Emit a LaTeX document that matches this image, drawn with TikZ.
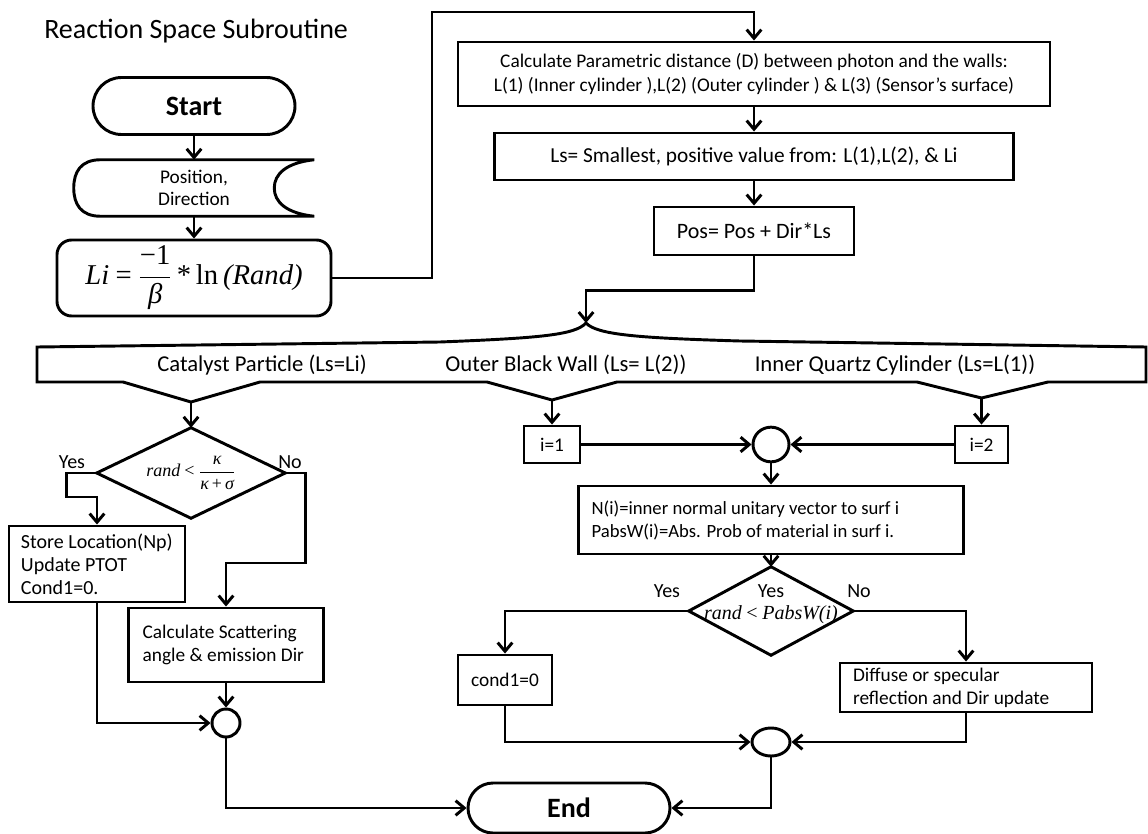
\documentclass[tikz,border=0pt]{standalone}
\usepackage{fix-cm}
\usepackage{amsmath}
\usepackage[no-math]{fontspec}
\setmainfont{Carlito}
\newfontfamily\tnr{Liberation Serif}
\usetikzlibrary{arrows.meta,shapes.misc,shapes.geometric,calc}
\tikzset{
  ln/.style={line width=2.2pt},
  arr/.style={line width=2.2pt,-{Straight Barb[length=6.5pt,width=11pt]}},
  box/.style={draw,line width=2.2pt,rectangle,inner sep=0pt,align=center},
  lbox/.style={draw,line width=2.2pt,rectangle,align=flush left,inner ysep=0pt},
  term/.style={draw,line width=2.2pt,rounded rectangle,inner sep=0pt,font=\fontsize{21}{25}\selectfont\bfseries},
  lab/.style={inner sep=0pt,font=\fontsize{15}{17}\selectfont},
  blab/.style={inner sep=0pt,font=\fontsize{17}{20}\selectfont},
  junc/.style={draw,line width=2.2pt,ellipse,inner sep=0pt},
  dia/.style={rectangle,inner sep=0pt},
}
\begin{document}
\begin{tikzpicture}[x=0.75pt,y=-0.75pt]
\useasboundingbox (0,0) rectangle (1148,834);

% title
\node[anchor=west,inner sep=0pt,font=\fontsize{21}{25}\selectfont] (title) at (44,31) {Reaction Space Subroutine};

% left column
\node[term,minimum width=151.5pt,minimum height=42.75pt] (start) at (194,106) {Start};
\node[dia,minimum width=180pt,minimum height=42pt,align=center,font=\fontsize{14.5}{16.5}\selectfont] (pos) at (194,188) {Position,\\Direction};
\draw[ln] ($(pos.north west)+(27,0)$) -- (pos.north east)
  .. controls ++(-28,3) and ++(0,-14) .. ($(pos.east)+(-40,0)$)
  .. controls ++(0,14) and ++(-28,-3) .. (pos.south east)
  -- ($(pos.south west)+(27,0)$)
  .. controls ++(-20,0) and ++(0,16) .. (pos.west)
  .. controls ++(0,-16) and ++(-20,0) .. ($(pos.north west)+(27,0)$);
\node[box,rounded corners=11pt,minimum width=205.5pt,minimum height=57pt,font=\fontsize{21.5}{24}\selectfont] (li) at (194,278)
  {{\tnr\itshape Li} {\tnr =} $\dfrac{\text{\tnr −1}}{\text{\tnr\itshape β}}$\,{\tnr *\,ln}\,{\tnr\itshape (Rand)}};

\draw[arr] (start.south) -- (pos.north);
\draw[arr] (pos.south) -- (li.north);

% top right column
\node[box,minimum width=444pt,minimum height=48pt,font=\fontsize{14.5}{18}\selectfont] (calc) at (754,74)
  {Calculate Parametric distance (D) between photon and the walls:\\L(1) (Inner cylinder ),L(2) (Outer cylinder ) \& L(3) (Sensor’s surface)};
\node[box,minimum width=389pt,minimum height=35.25pt,font=\fontsize{16}{19}\selectfont] (ls) at (754,156.5)
  {Ls= Smallest, positive value from: L(1),L(2), \& Li};
\node[box,minimum width=150pt,minimum height=36pt,font=\fontsize{16.5}{19}\selectfont] (posb) at (754,231)
  {Pos= Pos + Dir*Ls};

\draw[arr] (li.east) -| (432,12) -| (calc.north);
\draw[arr] (calc.south) -- (ls.north);
\draw[arr] (ls.south) -- (posb.north);

% brace
\coordinate (btip) at (586,323);
\coordinate (b1) at (191,402);
\coordinate (b2) at (552,400);
\coordinate (b3) at (981.5,398);
\draw[ln,line join=miter] (37,347) -- (37,382) -- (123,382) -- (b1) -- (260,382) -- (487,382) -- (b2) -- (617,382)
  -- (917,382) -- (b3) -- (1048,382) -- (1146,382) -- (1146,347) -- (740,341)
  .. controls (640,338) and (597,335) .. (btip)
  .. controls (575,335) and (540,338) .. (440,342) -- cycle;
\node[blab] (lab1) at (262,365) {Catalyst Particle (Ls=Li)};
\node[blab] (lab2) at (566,365) {Outer Black Wall (Ls= L(2))};
\node[blab] (lab3) at (895,365) {Inner Quartz Cylinder (Ls=L(1))};

\draw[arr] (posb.south) -- ++(0,34) -| (btip);

% catalyst branch
\node[dia,minimum width=141pt,minimum height=67.5pt,font=\fontsize{13.5}{15}\selectfont] (d1) at (191,473)
  {{\tnr\itshape rand} {\tnr <} $\dfrac{\text{\tnr\itshape κ}}{\text{\tnr\itshape κ\,\upshape+\,\itshape σ}}$};
\draw[ln] (d1.north) -- (d1.east) -- (d1.south) -- (d1.west) -- cycle;
\node[lab] (y1) at (72,462) {Yes};
\node[lab] (n1) at (290,462) {No};
\draw[arr] (b1) -- (d1.north);

\node[lbox,minimum width=132pt,minimum height=57pt,inner xsep=9pt,text width=114pt,font=\fontsize{15}{17.25}\selectfont] (store) at (97,564)
  {Store Location(Np)\\Update PTOT\\Cond1=0.};
\node[lbox,minimum width=146.25pt,minimum height=55.5pt,inner xsep=10.5pt,text width=125pt,font=\fontsize{14.5}{17.25}\selectfont] (scat) at (226,645)
  {Calculate Scattering\\angle \& emission Dir};
\node[junc,minimum width=21pt,minimum height=21pt] (c1) at (226,723) {};

\draw[arr] (d1.west) -- ++(-30,0) -- ++(0,24) -| (store.north);
\draw[arr] (d1.east) -- ++(20,0) -- ++(0,90) -| (scat.north);
\draw[arr] (store.south) |- (c1.west);
\draw[arr] (scat.south) -- (c1.north);

% wall branches
\node[box,minimum width=42pt,minimum height=27.75pt,font=\fontsize{14.5}{17}\selectfont] (i1) at (552,444.5) {i=1};
\node[box,minimum width=39.75pt,minimum height=27.75pt,font=\fontsize{14.5}{17}\selectfont] (i2) at (981.5,444.5) {i=2};
\node[junc,minimum width=27pt,minimum height=26pt] (c0) at (771,444.5) {};
\draw[arr] (b2) -- (i1.north);
\draw[arr] (b3) -- (i2.north);
\draw[arr] (i1.east) -- (c0.west);
\draw[arr] (i2.west) -- (c0.east);

\node[lbox,minimum width=288.75pt,minimum height=51pt,inner xsep=9.75pt,text width=269pt,font=\fontsize{14}{17.25}\selectfont] (nb) at (771,520)
  {N(i)=inner normal unitary vector to surf i\\PabsW(i)=Abs. Prob of material in surf i.};
\draw[arr] (c0.south) -- (nb.north);

\node[dia,minimum width=123pt,minimum height=66pt] (d2) at (771,611) {};
\draw[ln] (d2.north) -- (d2.east) -- (d2.south) -- (d2.west) -- cycle;
\node[lab] (y3) at (771,591) {Yes};
\node[inner sep=0pt,font=\fontsize{15}{17}\selectfont] (f2) at (771,615) {{\tnr\itshape rand} {\tnr <} {\tnr\itshape PabsW(i)}};
\node[lab] (y2) at (667,591) {Yes};
\node[lab] (n2) at (859,591) {No};
\draw[arr] (nb.south) -- (d2.north);

\node[box,minimum width=70.5pt,minimum height=37.5pt,font=\fontsize{14.5}{17}\selectfont] (cond) at (505,680) {cond1=0};
\node[lbox,minimum width=189pt,minimum height=36.75pt,inner xsep=9.75pt,text width=169.5pt,font=\fontsize{14.5}{17.25}\selectfont] (diff) at (966,687.5)
  {Diffuse or specular\\reflection and Dir update};
\node[junc,minimum width=28.5pt,minimum height=21pt] (c2) at (771,742) {};

\draw[arr] (d2.west) -| (cond.north);
\draw[arr] (d2.east) -| (diff.north);
\draw[arr] (cond.south) |- (c2.west);
\draw[arr] (diff.south) |- (c2.east);

% end
\node[term,minimum width=151.5pt,minimum height=37.5pt] (end) at (569,808) {End};
\draw[arr] (c1.south) |- (end.west);
\draw[arr] (c2.south) |- (end.east);
\end{tikzpicture}
\end{document}
